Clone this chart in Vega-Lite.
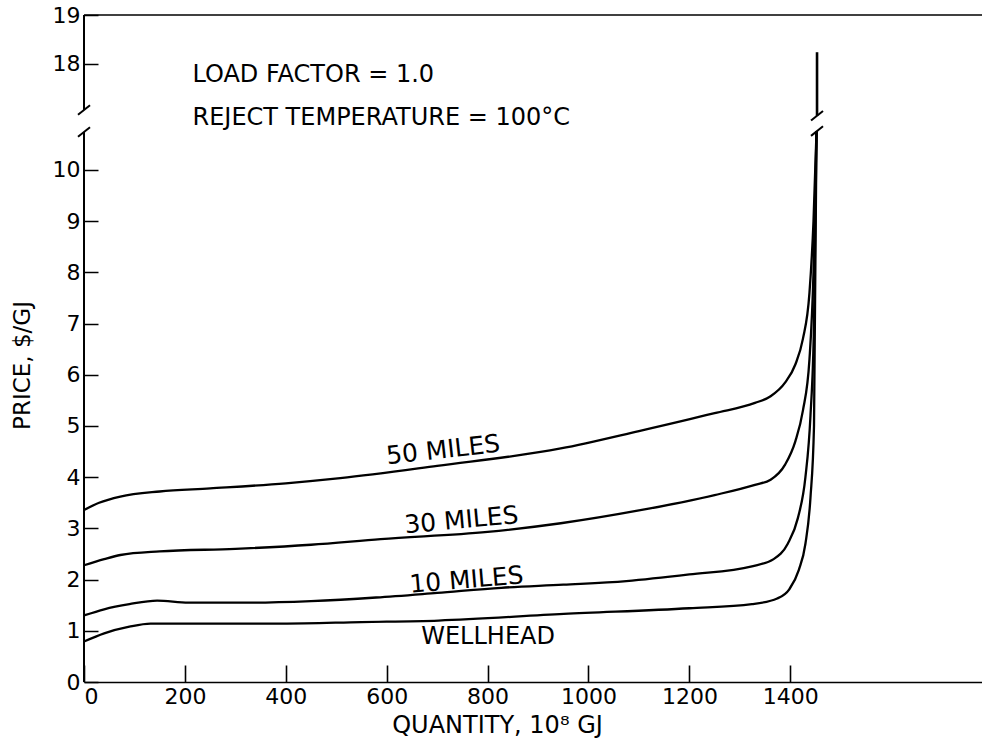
{
  "$schema": "https://vega.github.io/schema/vega-lite/v6.json",
  "width": 898,
  "height": 667,
  "autosize": {"type": "none"},
  "padding": {"left": 84, "top": 15, "right": 0, "bottom": 56},
  "background": "white",
  "config": {"view": {"stroke": null}, "font": "DejaVu Sans"},
  "datasets": {
    "curves": [
      {"series": "WELLHEAD", "x": 0, "y": 0.79},
      {"series": "WELLHEAD", "x": 40, "y": 0.95},
      {"series": "WELLHEAD", "x": 90, "y": 1.08},
      {"series": "WELLHEAD", "x": 132, "y": 1.14},
      {"series": "WELLHEAD", "x": 250, "y": 1.14},
      {"series": "WELLHEAD", "x": 393, "y": 1.14},
      {"series": "WELLHEAD", "x": 550, "y": 1.17},
      {"series": "WELLHEAD", "x": 703, "y": 1.2},
      {"series": "WELLHEAD", "x": 951, "y": 1.33},
      {"series": "WELLHEAD", "x": 1200, "y": 1.44},
      {"series": "WELLHEAD", "x": 1324, "y": 1.52},
      {"series": "WELLHEAD", "x": 1374, "y": 1.63},
      {"series": "WELLHEAD", "x": 1398, "y": 1.81},
      {"series": "WELLHEAD", "x": 1417, "y": 2.19},
      {"series": "WELLHEAD", "x": 1430, "y": 2.7},
      {"series": "WELLHEAD", "x": 1440, "y": 3.6},
      {"series": "WELLHEAD", "x": 1447, "y": 5.0},
      {"series": "WELLHEAD", "x": 1452, "y": 11.0},
      {"series": "10 MILES", "x": 0, "y": 1.3},
      {"series": "10 MILES", "x": 40, "y": 1.42},
      {"series": "10 MILES", "x": 90, "y": 1.52},
      {"series": "10 MILES", "x": 145, "y": 1.59},
      {"series": "10 MILES", "x": 207, "y": 1.55},
      {"series": "10 MILES", "x": 331, "y": 1.55},
      {"series": "10 MILES", "x": 450, "y": 1.58},
      {"series": "10 MILES", "x": 579, "y": 1.65},
      {"series": "10 MILES", "x": 700, "y": 1.74},
      {"series": "10 MILES", "x": 827, "y": 1.84},
      {"series": "10 MILES", "x": 950, "y": 1.9},
      {"series": "10 MILES", "x": 1075, "y": 1.97},
      {"series": "10 MILES", "x": 1200, "y": 2.1},
      {"series": "10 MILES", "x": 1324, "y": 2.26},
      {"series": "10 MILES", "x": 1367, "y": 2.4},
      {"series": "10 MILES", "x": 1395, "y": 2.7},
      {"series": "10 MILES", "x": 1415, "y": 3.2},
      {"series": "10 MILES", "x": 1430, "y": 4.0},
      {"series": "10 MILES", "x": 1440, "y": 5.2},
      {"series": "10 MILES", "x": 1447, "y": 7.0},
      {"series": "10 MILES", "x": 1452, "y": 11.0},
      {"series": "30 MILES", "x": 0, "y": 2.28},
      {"series": "30 MILES", "x": 40, "y": 2.4},
      {"series": "30 MILES", "x": 72, "y": 2.48},
      {"series": "30 MILES", "x": 150, "y": 2.55},
      {"series": "30 MILES", "x": 300, "y": 2.6},
      {"series": "30 MILES", "x": 450, "y": 2.68},
      {"series": "30 MILES", "x": 588, "y": 2.79},
      {"series": "30 MILES", "x": 800, "y": 2.93},
      {"series": "30 MILES", "x": 945, "y": 3.1},
      {"series": "30 MILES", "x": 1100, "y": 3.35},
      {"series": "30 MILES", "x": 1250, "y": 3.65},
      {"series": "30 MILES", "x": 1330, "y": 3.85},
      {"series": "30 MILES", "x": 1361, "y": 3.95},
      {"series": "30 MILES", "x": 1390, "y": 4.25},
      {"series": "30 MILES", "x": 1410, "y": 4.7},
      {"series": "30 MILES", "x": 1425, "y": 5.3},
      {"series": "30 MILES", "x": 1438, "y": 6.3},
      {"series": "30 MILES", "x": 1446, "y": 8.0},
      {"series": "30 MILES", "x": 1452, "y": 11.0},
      {"series": "50 MILES", "x": 0, "y": 3.36},
      {"series": "50 MILES", "x": 30, "y": 3.5},
      {"series": "50 MILES", "x": 72, "y": 3.62},
      {"series": "50 MILES", "x": 150, "y": 3.72},
      {"series": "50 MILES", "x": 250, "y": 3.78},
      {"series": "50 MILES", "x": 400, "y": 3.88},
      {"series": "50 MILES", "x": 508, "y": 3.98},
      {"series": "50 MILES", "x": 700, "y": 4.22},
      {"series": "50 MILES", "x": 945, "y": 4.56},
      {"series": "50 MILES", "x": 1100, "y": 4.9},
      {"series": "50 MILES", "x": 1250, "y": 5.25},
      {"series": "50 MILES", "x": 1330, "y": 5.45},
      {"series": "50 MILES", "x": 1361, "y": 5.58},
      {"series": "50 MILES", "x": 1390, "y": 5.85},
      {"series": "50 MILES", "x": 1410, "y": 6.2},
      {"series": "50 MILES", "x": 1425, "y": 6.7},
      {"series": "50 MILES", "x": 1438, "y": 7.6},
      {"series": "50 MILES", "x": 1446, "y": 9.0},
      {"series": "50 MILES", "x": 1452, "y": 11.0}
    ],
    "topSegment": [
      {"x": 1453, "y": 15.4},
      {"x": 1453, "y": 18.24}
    ],
    "axisSegments": [
      {"x": 0, "y": 0, "y2": 10.74},
      {"x": 0, "y": 17.06, "y2": 19}
    ],
    "topBorder": [
      {"x": 0, "x2": 1780, "y": 19}
    ],
    "breaks": [
      {"x": 0, "y": 10.74},
      {"x": 0, "y": 17.06},
      {"x": 1453, "y": 11.0},
      {"x": 1453, "y": 15.4}
    ],
    "curveLabels": [
      {"label": "50 MILES", "x": 712, "y": 4.53},
      {"label": "30 MILES", "x": 748, "y": 3.16},
      {"label": "10 MILES", "x": 758, "y": 1.99},
      {"label": "WELLHEAD", "x": 801, "y": 0.87}
    ],
    "notes": [
      {"label": "LOAD FACTOR = 1.0", "x": 215, "y": 17.63},
      {"label": "REJECT TEMPERATURE = 100°C", "x": 215, "y": 12.75}
    ]
  },
  "encoding": {
    "x": {
      "field": "x",
      "type": "quantitative",
      "scale": {"domain": [0, 1780], "nice": false, "zero": false},
      "axis": {
        "title": "QUANTITY, 10⁸ GJ",
        "values": [0, 200, 400, 600, 800, 1000, 1200, 1400],
        "format": "d",
        "grid": false,
        "domain": true,
        "domainColor": "black",
        "domainWidth": 1.6,
        "ticks": true,
        "tickSize": -17,
        "tickColor": "black",
        "tickWidth": 1.6,
        "labelPadding": 21,
        "labelFont": "DejaVu Sans",
        "labelFontSize": 22,
        "labelColor": "black",
        "labelOverlap": false,
        "titleFont": "DejaVu Sans",
        "titleFontSize": 24,
        "titleFontWeight": "normal",
        "titleColor": "black",
        "titleX": 413,
        "titleY": 50,
        "titleBaseline": "alphabetic",
        "titleAlign": "center"
      }
    },
    "y": {
      "field": "y",
      "type": "quantitative",
      "scale": {"type": "linear", "domain": [0, 10.74, 17.06, 19], "range": [667, 117, 95, 0], "nice": false, "zero": false},
      "axis": {
        "title": "PRICE, $/GJ",
        "values": [0, 1, 2, 3, 4, 5, 6, 7, 8, 9, 10, 18, 19],
        "format": "d",
        "grid": false,
        "domain": false,
        "ticks": true,
        "tickSize": -14,
        "tickColor": "black",
        "tickWidth": 1.5,
        "labelPadding": 18,
        "labelFont": "DejaVu Sans",
        "labelFontSize": 22,
        "labelColor": "black",
        "labelOverlap": false,
        "titleFont": "DejaVu Sans",
        "titleFontSize": 23,
        "titleFontWeight": "normal",
        "titleColor": "black",
        "titleAngle": -90,
        "titleX": -62,
        "titleY": 350,
        "titleBaseline": "middle",
        "titleAlign": "center"
      }
    }
  },
  "layer": [
    {
      "data": {"name": "axisSegments"},
      "mark": {"type": "rule", "color": "black", "strokeWidth": 2},
      "encoding": {"y2": {"field": "y2"}}
    },
    {
      "data": {"name": "topBorder"},
      "mark": {"type": "rule", "color": "black", "strokeWidth": 1.6},
      "encoding": {"x2": {"field": "x2"}}
    },
    {
      "data": {"name": "curves"},
      "mark": {"type": "line", "color": "black", "strokeWidth": 2.3, "interpolate": "monotone"},
      "encoding": {"detail": {"field": "series", "type": "nominal"}}
    },
    {
      "data": {"name": "topSegment"},
      "mark": {"type": "line", "color": "black", "strokeWidth": 2.6},
      "encoding": {}
    },
    {
      "data": {"name": "breaks"},
      "mark": {"type": "point", "shape": "M-1,0.8L1,-0.8", "size": 144, "filled": false, "stroke": "black", "strokeWidth": 2, "opacity": 1}
    },
    {
      "data": {"name": "curveLabels"},
      "transform": [{"filter": "datum.label == '50 MILES'"}],
      "mark": {"type": "text", "angle": -6.4, "fontSize": 25, "font": "DejaVu Sans", "color": "black", "align": "center", "baseline": "middle"},
      "encoding": {"text": {"field": "label"}}
    },
    {
      "data": {"name": "curveLabels"},
      "transform": [{"filter": "datum.label == '30 MILES'"}],
      "mark": {"type": "text", "angle": -5.2, "fontSize": 25, "font": "DejaVu Sans", "color": "black", "align": "center", "baseline": "middle"},
      "encoding": {"text": {"field": "label"}}
    },
    {
      "data": {"name": "curveLabels"},
      "transform": [{"filter": "datum.label == '10 MILES'"}],
      "mark": {"type": "text", "angle": -4.8, "fontSize": 25, "font": "DejaVu Sans", "color": "black", "align": "center", "baseline": "middle"},
      "encoding": {"text": {"field": "label"}}
    },
    {
      "data": {"name": "curveLabels"},
      "transform": [{"filter": "datum.label == 'WELLHEAD'"}],
      "mark": {"type": "text", "angle": 0, "fontSize": 24, "font": "DejaVu Sans", "color": "black", "align": "center", "baseline": "middle"},
      "encoding": {"text": {"field": "label"}}
    },
    {
      "data": {"name": "notes"},
      "mark": {"type": "text", "fontSize": 24, "font": "DejaVu Sans", "color": "black", "align": "left", "baseline": "alphabetic"},
      "encoding": {"text": {"field": "label"}}
    }
  ]
}
